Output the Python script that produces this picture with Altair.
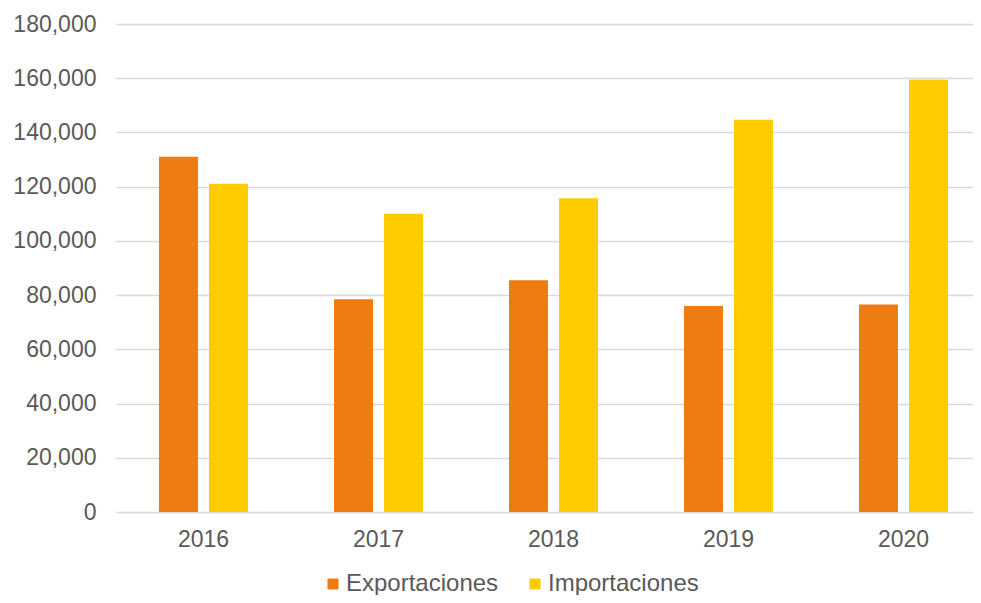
import altair as alt
import pandas as pd

years = ["2016", "2017", "2018", "2019", "2020"]
exportaciones = [131000, 78500, 85500, 76000, 76500]
importaciones = [121100, 110000, 115700, 144700, 159400]
series = ["Exportaciones", "Importaciones"]
colors = ["#EE7D11", "#FFCC00"]
y_ticks = [0, 20000, 40000, 60000, 80000, 100000, 120000, 140000, 160000, 180000]

rows = []
for i, yr in enumerate(years):
    rows.append({"year": yr, "serie": series[0], "value": exportaciones[i]})
    rows.append({"year": yr, "serie": series[1], "value": importaciones[i]})
df = pd.DataFrame(rows)

FONT = "Liberation Sans"
TXT = "#595959"

chart = alt.Chart(df).mark_bar().encode(
    x=alt.X("year:N", sort=years, title=None,
            scale=alt.Scale(range=[0, 875], paddingInner=0.4914, paddingOuter=0.2457),
            axis=alt.Axis(labelAngle=0, ticks=False, domain=False, labelPadding=16,
                          labelFontSize=23, labelColor=TXT, labelFont=FONT)),
    xOffset=alt.XOffset("serie:N", sort=series,
                        scale=alt.Scale(paddingInner=0.22, paddingOuter=0)),
    y=alt.Y("value:Q", title=None,
            scale=alt.Scale(domain=[0, 180000], nice=False),
            axis=alt.Axis(values=y_ticks, format=",.0f", ticks=False, domain=False,
                          labelPadding=20, labelFontSize=23, labelColor=TXT, labelFont=FONT,
                          gridColor="#D9D9D9", gridWidth=1.5)),
    color=alt.Color("serie:N", sort=series, title=None,
                    scale=alt.Scale(domain=series, range=colors),
                    legend=alt.Legend(orient="none", legendX=205, legendY=548,
                                      direction="horizontal", symbolType="square",
                                      symbolSize=121, symbolStrokeWidth=0,
                                      labelFontSize=24, labelColor=TXT, labelFont=FONT,
                                      labelOffset=1, columnPadding=24)),
).properties(
    width=857, height=488,
    background="white",
    autosize=alt.AutoSizeParams(type="none"),
    padding={"left": 108, "top": 16, "right": 0, "bottom": 83},
).configure_view(stroke=None)

chart.save("out.html", embed_options={"renderer": "svg", "actions": False})
